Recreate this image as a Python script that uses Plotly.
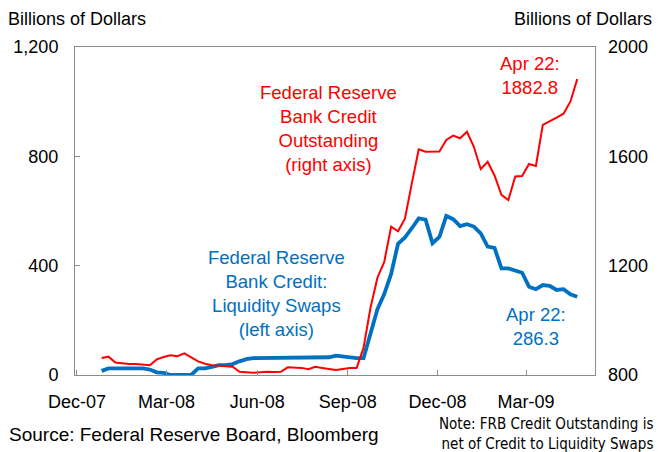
import pandas as pd
import plotly.graph_objects as go

# ---- data (weekly, Wednesdays) ----
dates = pd.date_range("2007-12-26", "2009-04-22", freq="7D")

liquidity_swaps = [  # left axis, billions of dollars
    15, 24, 24, 24, 24, 24, 24, 20, 10, 8,
    0, 0, 0, 0, 24, 24, 30, 36, 36, 40,
    50, 58, 62, 62, 62, 62, 62, 62, 62, 62,
    62, 62, 62, 65, 71, 68, 63, 62, 62, 145,
    240, 296, 370, 480, 503, 537, 573, 568, 482, 505,
    582, 570, 545, 552, 543, 518, 470, 465, 390, 390,
    382, 374, 323, 314, 329, 326, 311, 314, 295, 286.3,
]

credit_outstanding = [  # right axis, billions of dollars
    862, 867, 846, 842, 840, 840, 839, 836, 857, 866,
    872, 869, 879, 863, 850, 841, 836, 834, 833, 830,
    812, 810, 808, 810, 812, 811, 812, 828, 828, 826,
    821, 830, 826, 822, 818, 822, 826, 826, 900, 1045,
    1155, 1214, 1343, 1326, 1372, 1501, 1626, 1617, 1617, 1618,
    1660, 1676, 1666, 1690, 1635, 1553, 1580, 1530, 1459, 1440,
    1526, 1528, 1572, 1565, 1715, 1727, 1742, 1756, 1800, 1882.8,
]

x_tick_dates = ["2007-12-01", "2008-03-01", "2008-06-01", "2008-09-01", "2008-12-01", "2009-03-01"]
x_tick_labels = ["Dec-07", "Mar-08", "Jun-08", "Sep-08", "Dec-08", "Mar-09"]
left_ticks = [0, 400, 800, 1200]
left_tick_labels = ["0", "400", "800", "1,200"]
right_ticks = [800, 1200, 1600, 2000]
right_tick_labels = ["800", "1200", "1600", "2000"]

# ---- style ----
RED = "#FF0000"
BLUE = "#0070C0"
FONT = "Liberation Sans, Arial, sans-serif"
NARROW = "Liberation Sans Narrow, Arial Narrow, DejaVu Sans Condensed, sans-serif"
W, H = 660, 452
L, R, T, B = 75, 63, 47, 77
PW, PH = W - L - R, H - T - B


def px(x):
    return (x - L) / PW


def py(y):
    return (H - B - y) / PH


fig = go.Figure()
fig.add_trace(go.Scatter(x=dates, y=liquidity_swaps, mode="lines",
                         line=dict(color=BLUE, width=3.8), yaxis="y"))
fig.add_trace(go.Scatter(x=dates, y=credit_outstanding, mode="lines",
                         line=dict(color=RED, width=2), yaxis="y2"))

axis_common = dict(showgrid=False, zeroline=False, linecolor="#8c8c8c", linewidth=1,
                   tickfont=dict(family=FONT, size=18, color="black"))

fig.update_layout(
    width=W, height=H,
    margin=dict(l=L, r=R, t=T, b=B),
    paper_bgcolor="white", plot_bgcolor="white",
    showlegend=False,
    xaxis=dict(range=["2007-11-29", "2009-05-10"], tickvals=x_tick_dates, ticktext=x_tick_labels,
               ticks="inside", ticklen=5, tickcolor="#8c8c8c", showline=True, mirror=True,
               ticklabelstandoff=10, **axis_common),
    yaxis=dict(range=[0, 1200], tickvals=left_ticks, ticktext=left_tick_labels,
               ticks="inside", ticklen=5, tickcolor="#8c8c8c", showline=True, mirror=True,
               ticklabelstandoff=12, **axis_common),
    yaxis2=dict(range=[800, 2000], tickvals=right_ticks, ticktext=right_tick_labels,
                overlaying="y", side="right", ticks="", showline=False,
                ticklabelstandoff=12, **axis_common),
)


def note(text, x, y, color="black", size=18.5, xanchor="center", align="center", family=FONT):
    fig.add_annotation(text=text, x=px(x), y=py(y), xref="paper", yref="paper",
                       showarrow=False, xanchor=xanchor, yanchor="middle", align=align,
                       font=dict(family=family, size=size, color=color))


note("Billions of Dollars", 6, 19, size=18, xanchor="left")
note("Billions of Dollars", 656, 19, size=18, xanchor="right")
note("Federal Reserve<br>Bank Credit<br>Outstanding<br>(right axis)", 329, 128, color=RED)
note("Federal Reserve<br>Bank Credit:<br>Liquidity Swaps<br>(left axis)", 277, 293, color=BLUE)
note("Apr 22:<br>1882.8", 532, 76, color=RED)
note("Apr 22:<br>286.3", 538, 326, color=BLUE)
note("Source: Federal Reserve Board, Bloomberg", 7, 434, size=19, xanchor="left")
note("Note: FRB Credit Outstanding is<br>net of Credit to Liquidity Swaps", 657, 434,
     size=15, xanchor="right", align="right", family=NARROW)

fig.write_html("out.html", config={"displayModeBar": False},
               post_script="document.body.style.margin='0';")
